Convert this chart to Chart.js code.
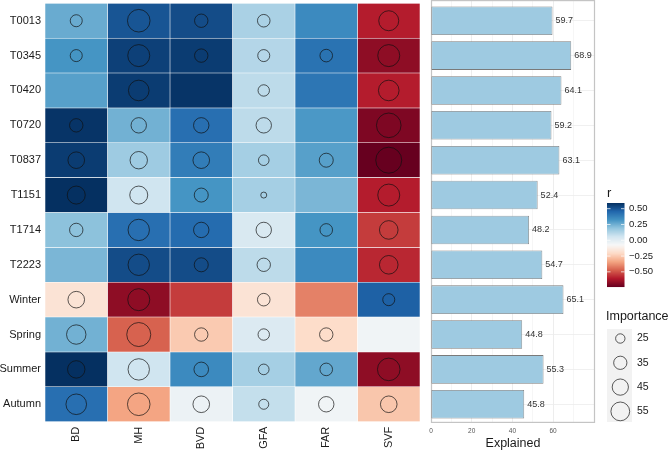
<!DOCTYPE html>
<html>
<head>
<meta charset="utf-8">
<script src="https://cdn.jsdelivr.net/npm/chart.js@4.4.1/dist/chart.umd.min.js"></script>
<style>
html,body{margin:0;padding:0;background:#ffffff;width:669px;height:452px;overflow:hidden;}
#heat{position:absolute;left:0;top:0;}
#bars{position:absolute;left:425px;top:0;}
</style>
</head>
<body>
<canvas id="heat" width="425" height="452"></canvas>
<canvas id="bars" width="244" height="452"></canvas>
<script>
// ---------------- DATA ----------------
const rows = ['T0013','T0345','T0420','T0720','T0837','T1151','T1714','T2223','Winter','Spring','Summer','Autumn'];
const cols = ['BD','MH','BVD','GFA','FAR','SVF'];

// correlation r per column (row order as above)
const rBD  = [0.26, 0.32, 0.29, 0.58, 0.56, 0.59, 0.20, 0.23, -0.17, 0.245, 0.59, 0.43];
const rMH  = [0.50, 0.55, 0.56, 0.245, 0.165, 0.06, 0.43, 0.52, -0.67, -0.47, 0.06, -0.34];
const rBVD = [0.52, 0.56, 0.58, 0.43, 0.39, 0.32, 0.44, 0.52, -0.54, -0.25, 0.35, -0.035];
const rGFA = [0.14, 0.12, 0.10, 0.10, 0.15, 0.15, 0.03, 0.10, -0.17, 0.02, 0.15, 0.085];
const rFAR = [0.35, 0.42, 0.41, 0.31, 0.29, 0.23, 0.32, 0.35, -0.41, -0.20, 0.27, -0.05];
const rSVF = [-0.60, -0.67, -0.60, -0.70, -0.74, -0.60, -0.54, -0.58, 0.47, -0.05, -0.67, -0.26];

// importance per column (null = no circle)
const impBD  = [31.4, 31.4, null, 35.4, 46.3, 51.8, 35.4, null, 46.3, 57.8, 49.4, 63.2];
const impMH  = [73.0, 70.0, 63.2, 42.0, 49.4, 51.8, 67.0, 67.0, 70.0, 80.5, 67.0, 73.0];
const impBVD = [35.4, 35.4, null, 42.0, 46.3, 37.3, 42.0, 37.3, null, 35.4, 39.2, 46.3];
const impGFA = [33.0, 31.4, 29.8, 42.0, 27.8, 19.1, 42.0, 35.4, 33.0, 29.8, 27.8, 26.4];
const impFAR = [null, 33.0, null, null, 37.3, null, 33.0, null, null, 35.4, 33.0, 42.0];
const impSVF = [60.5, 70.0, 63.2, 83.8, 91.8, 70.0, 54.3, 54.3, 31.4, null, 73.0, 46.3];

// explained variance (%)
const explained = [59.7, 68.9, 64.1, 59.2, 63.1, 52.4, 48.2, 54.7, 65.1, 44.8, 55.3, 45.8];

// tick / legend labels
const explainedTicks = [0, 20, 40, 60];
const rLegendTicks = [0.50, 0.25, 0.00, -0.25, -0.50];
const sizeBreaks = [25, 35, 45, 55];

// ---------------- HELPERS ----------------
const FONT = "'Liberation Sans', Arial, Helvetica, sans-serif";
Chart.defaults.font.family = FONT;
Chart.defaults.color = '#1a1a1a';

const rByCol = [rBD, rMH, rBVD, rGFA, rFAR, rSVF];
const impByCol = [impBD, impMH, impBVD, impGFA, impFAR, impSVF];
const allR = rByCol.flat();
const rMin = Math.min(...allR), rMax = Math.max(...allR);

const RDBU = ['#67001F','#B2182B','#D6604D','#F4A582','#FDDBC7','#F7F7F7','#D1E5F0','#92C5DE','#4393C3','#2166AC','#053061'];
function hex2rgb(h){ return [parseInt(h.substr(1,2),16), parseInt(h.substr(3,2),16), parseInt(h.substr(5,2),16)]; }
const RDBU_RGB = RDBU.map(hex2rgb);
function rColor(v){
  let t = (v - rMin) / (rMax - rMin);
  t = Math.max(0, Math.min(1, t));
  const p = t * (RDBU_RGB.length - 1);
  const i = Math.min(Math.floor(p), RDBU_RGB.length - 2);
  const f = p - i;
  const a = RDBU_RGB[i], b = RDBU_RGB[i+1];
  const c = a.map((x,k)=>Math.round(x + (b[k]-x)*f));
  return 'rgb(' + c.join(',') + ')';
}
function impRadius(v){ return Math.sqrt(Math.max(0, 2.2 * (v - 15))); }
const CIRCLE_COLOR = 'rgba(15,15,15,0.85)';
function zeroPad(s){ s.paddingTop = 0; s.paddingBottom = 0; s.paddingLeft = 0; s.paddingRight = 0; }

// ---------------- HEATMAP ----------------
const heatDatasets = cols.map((c, j) => ({
  type: 'bar',
  label: c,
  data: rows.map(() => [j, j + 1]),
  backgroundColor: rByCol[j].map(rColor),
  borderColor: 'rgba(255,255,255,0.35)',
  borderWidth: 0.6,
  borderSkipped: false,
  barPercentage: 1,
  categoryPercentage: 1,
  grouped: false,
  order: 2
}));
const pts = [];
rows.forEach((r, i) => cols.forEach((c, j) => {
  const v = impByCol[j][i];
  if (v !== null) pts.push({ x: j + 0.5, y: r, imp: v });
}));
heatDatasets.push({
  type: 'scatter',
  indexAxis: 'x',
  data: pts,
  clip: false,
  pointRadius: ctx => impRadius(ctx.raw.imp),
  pointHoverRadius: ctx => impRadius(ctx.raw.imp),
  pointBackgroundColor: 'rgba(0,0,0,0)',
  pointBorderColor: CIRCLE_COLOR,
  pointBorderWidth: 0.8,
  order: 0
});

new Chart(document.getElementById('heat'), {
  type: 'bar',
  data: { labels: rows, datasets: heatDatasets },
  options: {
    responsive: false,
    animation: false,
    indexAxis: 'y',
    layout: { autoPadding: false, padding: { top: 3.3, right: 5, left: 0, bottom: 0 } },
    plugins: { legend: { display: false }, tooltip: { enabled: false } },
    scales: {
      x: {
        type: 'linear', min: 0, max: cols.length, offset: false,
        grid: { display: false, drawTicks: false },
        border: { display: false },
        afterBuildTicks: s => { s.ticks = cols.map((c, j) => ({ value: j + 0.5 })); },
        afterFit: s => { s.height = 30.3; zeroPad(s); },
        ticks: {
          autoSkip: false, minRotation: 90, maxRotation: 90, padding: 5,
          font: { size: 11 }, color: '#1a1a1a',
          callback: v => cols[Math.floor(v)]
        }
      },
      y: {
        type: 'category', labels: rows, offset: true,
        grid: { display: false, drawTicks: false },
        border: { display: false },
        afterFit: s => { s.width = 45; zeroPad(s); },
        ticks: { padding: 4, font: { size: 11 }, color: '#1a1a1a' }
      }
    }
  }
});

// ---------------- BAR CHART + LEGENDS ----------------
const barData = rows.map((r, i) => ({ x: explained[i], y: i }));
const minorTicks = [];
explainedTicks.forEach(t => { minorTicks.push(t); minorTicks.push(t + 10); });

const panelBorder = {
  id: 'panelBorder',
  beforeDatasetsDraw(chart) {
    const { ctx, chartArea: a } = chart;
    ctx.save();
    ctx.strokeStyle = '#c4c4c4';
    ctx.lineWidth = 1.2;
    ctx.strokeRect(a.left + 0.5, a.top + 0.6, a.right - a.left - 1, a.bottom - a.top - 1.2);
    ctx.restore();
  }
};
const valueLabels = {
  id: 'valueLabels',
  afterDatasetsDraw(chart) {
    const { ctx } = chart;
    const meta = chart.getDatasetMeta(0);
    ctx.save();
    ctx.font = '9px ' + FONT;
    ctx.fillStyle = '#333333';
    ctx.textAlign = 'left';
    ctx.textBaseline = 'middle';
    meta.data.forEach((bar, i) => {
      ctx.fillText(explained[i].toFixed(1), bar.x + 3, bar.y);
    });
    ctx.restore();
  }
};
const legends = {
  id: 'legends',
  afterDraw(chart) {
    const { ctx } = chart;
    ctx.save();
    // colour legend
    ctx.fillStyle = '#1a1a1a';
    ctx.font = '13px ' + FONT;
    ctx.textAlign = 'left';
    ctx.textBaseline = 'alphabetic';
    ctx.fillText('r', 182, 197);
    const bx = 182, by = 203, bw = 17.5, bh = 84;
    for (let py = 0; py < bh; py++) {
      const v = rMax - (py + 0.5) / bh * (rMax - rMin);
      ctx.fillStyle = rColor(v);
      ctx.fillRect(bx, by + py, bw, 1.05);
    }
    ctx.strokeStyle = 'rgba(255,255,255,0.9)';
    ctx.lineWidth = 0.8;
    ctx.font = '9.5px ' + FONT;
    ctx.textBaseline = 'middle';
    rLegendTicks.forEach(v => {
      const y = by + (rMax - v) / (rMax - rMin) * bh;
      ctx.beginPath();
      ctx.moveTo(bx, y); ctx.lineTo(bx + 3.5, y);
      ctx.moveTo(bx + bw - 3.5, y); ctx.lineTo(bx + bw, y);
      ctx.stroke();
      ctx.fillStyle = '#1a1a1a';
      ctx.fillText(v.toFixed(2).replace('-', '\u2212'), 204, y);
    });
    // size legend
    ctx.textBaseline = 'alphabetic';
    ctx.font = '12.5px ' + FONT;
    ctx.fillStyle = '#1a1a1a';
    ctx.fillText('Importance', 181, 319.5);
    ctx.fillStyle = '#f2f2f2';
    ctx.fillRect(182, 329, 25, 93);
    ctx.font = '10.5px ' + FONT;
    ctx.textBaseline = 'middle';
    sizeBreaks.forEach((v, k) => {
      const cy = 338.5 + k * 24.3;
      ctx.beginPath();
      ctx.arc(195.3, cy, impRadius(v), 0, Math.PI * 2);
      ctx.strokeStyle = CIRCLE_COLOR;
      ctx.lineWidth = 0.8;
      ctx.stroke();
      ctx.fillStyle = '#1a1a1a';
      ctx.fillText(String(v), 212, cy);
    });
    ctx.restore();
  }
};

new Chart(document.getElementById('bars'), {
  type: 'bar',
  data: {
    datasets: [{
      data: barData,
      backgroundColor: '#9ecae1',
      borderColor: '#7a7a7a',
      borderWidth: 0.8,
      borderSkipped: false,
      barPercentage: 0.82,
      categoryPercentage: 1
    }]
  },
  plugins: [panelBorder, valueLabels, legends],
  options: {
    responsive: false,
    animation: false,
    indexAxis: 'y',
    layout: { autoPadding: false, padding: { left: 6, right: 74, top: 0, bottom: 0 } },
    plugins: { legend: { display: false }, tooltip: { enabled: false } },
    scales: {
      x: {
        type: 'linear', min: 0, max: 80.6, offset: false,
        afterBuildTicks: s => { s.ticks = minorTicks.map(v => ({ value: v })); },
        afterFit: s => { s.height = 29; zeroPad(s); },
        grid: {
          drawTicks: false,
          color: ctx => (ctx.tick && explainedTicks.includes(ctx.tick.value)) ? '#e8e8e8' : '#f4f4f4',
          lineWidth: 0.8
        },
        border: { display: false },
        ticks: {
          autoSkip: false, maxRotation: 0, padding: 4,
          font: { size: 6.5 }, color: '#555555',
          callback: v => explainedTicks.includes(v) ? String(v) : ''
        },
        title: { display: true, text: 'Explained', font: { size: 12.5 }, color: '#1a1a1a', padding: { top: 0, bottom: 0.5 } }
      },
      y: {
        type: 'linear', min: -0.594, max: 11.537, reverse: true, offset: false,
        afterBuildTicks: s => { s.ticks = rows.map((r, i) => ({ value: i })); },
        afterFit: s => { s.width = 0; zeroPad(s); },
        grid: { drawTicks: false, color: '#ececec', lineWidth: 0.8, offset: false },
        border: { display: false },
        ticks: { display: false }
      }
    }
  }
});
</script>
</body>
</html>
